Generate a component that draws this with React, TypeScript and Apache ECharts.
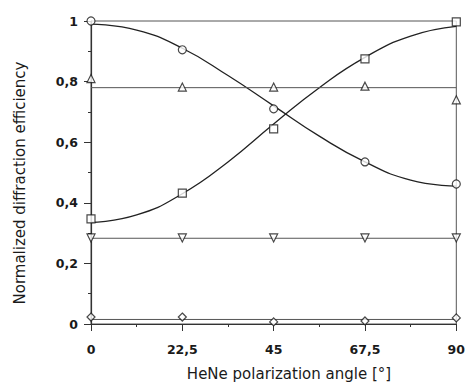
import React, { useEffect, useRef } from "react";
import * as echarts from "echarts";

const angles = [0, 22.5, 45, 67.5, 90];
const circleVals = [1.0, 0.905, 0.71, 0.535, 0.462];
const squareVals = [0.347, 0.432, 0.644, 0.875, 0.997];
const triUpVals = [0.81, 0.782, 0.782, 0.785, 0.74];
const triDownVals = [0.284, 0.284, 0.284, 0.284, 0.284];
const diamondVals = [0.023, 0.023, 0.007, 0.01, 0.02];

const fitAngles = [0, 11.25, 22.5, 33.75, 45, 56.25, 67.5, 78.75, 90];
const circleFit = [0.99, 0.97, 0.91, 0.82, 0.72, 0.62, 0.535, 0.475, 0.455];
const squareFit = [0.335, 0.36, 0.43, 0.535, 0.66, 0.78, 0.88, 0.95, 0.982];
const triUpFit = 0.78;
const triDownFit = 0.283;
const diamondFit = 0.015;

const xTicks = ["0", "22,5", "45", "67,5", "90"];
const xName = "HeNe polarization angle [°]";
const yName = "Normalized diffraction efficiency";

export default function App() {
  const ref = useRef<HTMLDivElement>(null);
  useEffect(() => {
    if (!ref.current) return;
    const chart = echarts.init(ref.current, null, { renderer: "svg" });
    const pts = (ys: number[]) => angles.map((a, i) => [a, ys[i]]);
    const fitPts = (ys: number[]) => fitAngles.map((a, i) => [a, ys[i]]);
    const flat = (v: number) => [[0, v], [90, v]];
    const ink = "#1a1a1a";
    const fitSeries = (data: number[][], smooth: boolean, color: string, width: number) => ({
      type: "line",
      data,
      smooth,
      showSymbol: false,
      lineStyle: { color, width },
      z: 2,
      silent: true,
    });
    const markerSeries = (data: number[][], symbol: string, size: number, rotate = 0) => ({
      type: "scatter",
      data,
      symbol,
      symbolSize: size,
      symbolRotate: rotate,
      itemStyle: { color: "#fff", borderColor: ink, borderWidth: 1.2 },
      z: 5,
    });
    const tickFont = { fontFamily: "DejaVu Sans", fontSize: 12.5, fontWeight: "bold", color: ink };
    chart.setOption({
      animation: false,
      backgroundColor: "#fff",
      grid: {
        left: 91,
        right: 10,
        top: 21,
        bottom: 61,
        show: true,
        borderColor: "#555",
        borderWidth: 1,
      },
      graphic: [
        {
          type: "text",
          x: 289,
          y: 374,
          style: {
            text: xName,
            align: "center",
            verticalAlign: "middle",
            font: "15px 'DejaVu Sans'",
            fill: ink,
          },
        },
        {
          type: "text",
          x: 20,
          y: 183,
          rotation: Math.PI / 2,
          style: {
            text: yName,
            align: "center",
            verticalAlign: "middle",
            font: "15px 'DejaVu Sans'",
            fill: ink,
          },
        },
      ],
      xAxis: {
        type: "value",
        min: 0,
        max: 90,
        interval: 22.5,
        axisLine: { onZero: false, lineStyle: { color: "#333", width: 1.2 } },
        axisTick: { show: true, length: 7, lineStyle: { color: "#333" } },
        minorTick: { show: true, splitNumber: 2, length: 3, lineStyle: { color: "#333" } },
        splitLine: { show: false },
        axisLabel: {
          margin: 19,
          ...tickFont,
          formatter: (v: number) => xTicks[Math.round(v / 22.5)] ?? "",
        },
      },
      yAxis: {
        type: "value",
        min: 0,
        max: 1,
        interval: 0.2,
        axisLine: { show: true, lineStyle: { color: "#333", width: 1.2 } },
        axisTick: { show: true, length: 7, lineStyle: { color: "#333" } },
        minorTick: { show: true, splitNumber: 2, length: 3, lineStyle: { color: "#333" } },
        splitLine: { show: false },
        axisLabel: {
          margin: 13,
          ...tickFont,
          formatter: (v: number) => String(+v.toFixed(1)).replace(".", ","),
        },
      },
      series: [
        fitSeries(fitPts(circleFit), true, "#222", 1.3),
        fitSeries(fitPts(squareFit), true, "#222", 1.3),
        fitSeries(flat(triUpFit), false, "#555", 1),
        fitSeries(flat(triDownFit), false, "#555", 1),
        fitSeries(flat(diamondFit), false, "#555", 1),
        markerSeries(pts(circleVals), "circle", 8),
        markerSeries(pts(squareVals), "rect", 8),
        markerSeries(pts(triUpVals), "triangle", 8),
        markerSeries(pts(triDownVals), "triangle", 8, 180),
        markerSeries(pts(diamondVals), "diamond", 8),
      ],
    });
    return () => chart.dispose();
  }, []);
  return (
    <div
      ref={ref}
      style={{ position: "fixed", left: 0, top: 0, width: 468, height: 385 }}
    />
  );
}
